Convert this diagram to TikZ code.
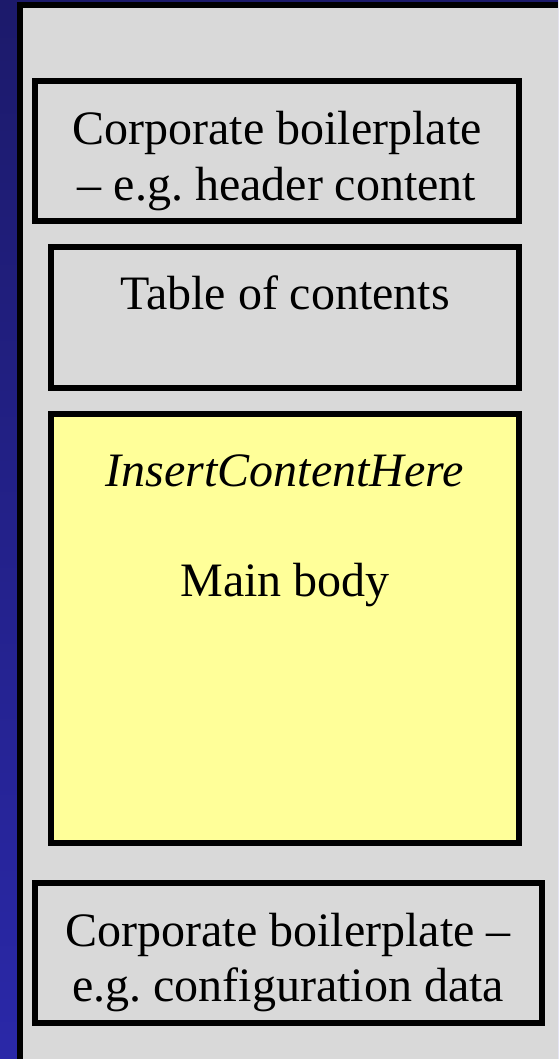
\documentclass[tikz,border=0pt]{standalone}
\usepackage{fontspec}
\setmainfont{Liberation Serif}
\frenchspacing
\definecolor{navytop}{RGB}{28,26,107}
\definecolor{navybot}{RGB}{42,40,168}
\definecolor{panelgray}{RGB}{217,217,217}
\definecolor{bodyyellow}{RGB}{255,255,153}
\tikzset{
  boxframe/.style={draw=black, line width=6pt, fill=panelgray},
  bodyframe/.style={draw=black, line width=6pt, fill=bodyyellow},
  boxtext/.style={inner sep=0pt, anchor=base, font=\fontsize{48}{57.6}\selectfont}
}
\begin{document}
\begin{tikzpicture}[x=1pt,y=1pt]
\useasboundingbox (0,0) rectangle (558,-1059);
% blue background
\shade[top color=navytop, bottom color=navybot] (0,0) rectangle (558,-1059);
% gray panel with black top/left border
\fill[panelgray] (20,-5.5) rectangle (558,-1059);
\draw[line width=6pt] (20,-1059) -- (20,-5.5) -- (558,-5.5);
% boxes
\path[boxframe] (35,-81) rectangle (519,-221);
\path[boxframe] (51,-247) rectangle (519,-388);
\path[bodyframe] (51,-414) rectangle (519,-843);
\path[boxframe] (35,-883) rectangle (542,-1023);
% texts
\node[boxtext] (h1) at (277,-145) {Corporate boilerplate};
\node[boxtext] (h2) at (277,-201) {– e.g. header content};
\node[boxtext] (toc) at (285,-309) {Table of contents};
\node[boxtext] (ins) at (285,-486) {\itshape InsertContentHere};
\node[boxtext] (main) at (285,-596) {Main body};
\node[boxtext] (f1) at (288,-946) {Corporate boilerplate –};
\node[boxtext] (f2) at (288,-1001) {e.g. configuration data};
\end{tikzpicture}
\end{document}
